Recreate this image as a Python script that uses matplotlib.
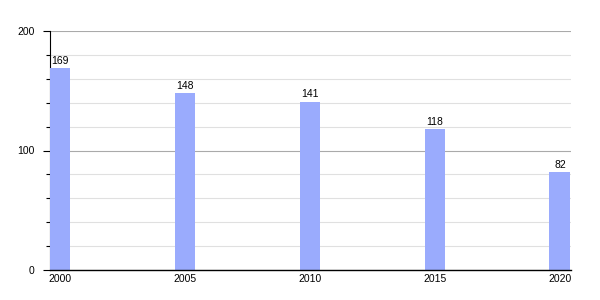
import matplotlib
matplotlib.use("Agg")
from matplotlib import pyplot as plt
from matplotlib.ticker import MultipleLocator

plt.rcParams["font.family"] = ["Liberation Sans", "DejaVu Sans"]

years = [2000, 2005, 2010, 2015, 2020]
values = [169, 148, 141, 118, 82]

barcolor = "#9aabfd"


def main():
    fig = plt.figure(figsize=(6, 3), dpi=100)
    ax = fig.add_axes([50 / 600, 30 / 300, 521 / 600, 239 / 300])

    ax.bar(years, values, width=0.84, color=barcolor, zorder=3)
    for x, v in zip(years, values):
        ax.text(x, v + 2, str(v), ha="center", va="bottom", fontsize=7.5, zorder=4)

    ax.set_xlim(1999.6, 2020.44)
    ax.set_ylim(0, 200)
    ax.set_xticks(years)
    ax.yaxis.set_major_locator(MultipleLocator(100))
    ax.yaxis.set_minor_locator(MultipleLocator(20))

    ax.grid(which="major", axis="y", color="#aaaaaa", linewidth=0.8, zorder=1)
    ax.grid(which="minor", axis="y", color="#e0e0e0", linewidth=0.8, zorder=1)

    for s in ("top", "right"):
        ax.spines[s].set_visible(False)
    ax.spines["left"].set_linewidth(0.8)
    ax.spines["bottom"].set_linewidth(1.0)
    ax.spines["bottom"].set_zorder(5)

    ax.tick_params(axis="y", which="major", length=5, width=0.8, labelsize=7.5, pad=6)
    ax.tick_params(axis="y", which="minor", length=3, width=0.8)
    ax.tick_params(axis="x", length=0, labelsize=7.5, pad=3)

    plt.savefig("out.png")


if __name__ == "__main__":
    main()
